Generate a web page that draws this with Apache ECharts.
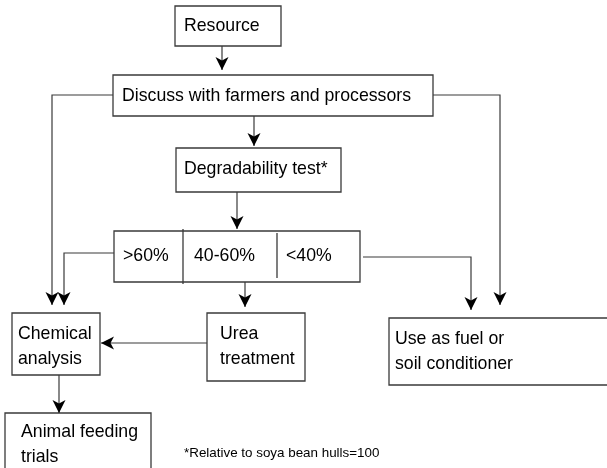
<!DOCTYPE html>
<html>
<head>
<meta charset="utf-8">
<script src="https://cdn.jsdelivr.net/npm/echarts@6/dist/echarts.min.js"></script>
<style>
  html, body { margin: 0; padding: 0; background: #fff; }
  #chart { width: 607px; height: 468px; }
</style>
</head>
<body>
<div id="chart"></div>
<script>
// flowchart texts
const nodeLabels = [
  "Resource",
  "Discuss with farmers and processors",
  "Degradability test*",
  "Chemical\nanalysis",
  "Urea\ntreatment",
  "Use as fuel or\nsoil conditioner",
  "Animal feeding\ntrials",
];
const splitLabels = [">60%", "40-60%", "<40%"];
const footnote = "*Relative to soya bean hulls=100";

// layout, in the picture's own units (x right, y down)
const nodeBoxes = [
  [175, 6, 281, 46],
  [113, 75, 433, 116],
  [176, 148, 341, 192],
  [12, 313, 100, 375],
  [207, 313, 305, 381],
  [389, 318, 620, 385],
  [5, 413, 151, 490],
];
const nodeTextPos = [
  [184, 26],
  [122, 96],
  [184, 169],
  [18, 347],
  [220, 347],
  [395, 352],
  [21, 445],
];
const splitBox = [114, 231, 360, 282];
const splitDividers = [
  [183, 229, 284],
  [277, 233, 278],
];
const splitTextX = [123, 194, 286];
const splitTextY = 256;
const footnotePos = [184, 453];

// connectors, all end with an arrow head
const connectors = [
  [[222, 46], [222, 70]],
  [[254, 116], [254, 146]],
  [[237, 192], [237, 229]],
  [[113, 95], [52, 95], [52, 305]],
  [[433, 95], [500, 95], [500, 305]],
  [[114, 253], [64, 253], [64, 305]],
  [[245, 282], [245, 307]],
  [[363, 257], [471, 257], [471, 310]],
  [[207, 343], [101, 343]],
  [[59, 375], [59, 413]],
];

const FONT = '"Liberation Sans", Arial, sans-serif';
const LINE = "#3a3a3a";

const chart = echarts.init(document.getElementById("chart"));

function rectShape(api, b) {
  const p0 = api.coord([b[0], b[1]]);
  const p1 = api.coord([b[2], b[3]]);
  return { x: p0[0], y: p0[1], width: p1[0] - p0[0], height: p1[1] - p0[1] };
}

function arrowHead(tip, from) {
  const dx = tip[0] - from[0];
  const dy = tip[1] - from[1];
  const len = Math.sqrt(dx * dx + dy * dy) || 1;
  const ux = dx / len, uy = dy / len;
  const nx = -uy, ny = ux;
  const L = 13, W = 6.5, notch = 9.5;
  return [
    [tip[0], tip[1]],
    [tip[0] - ux * L + nx * W, tip[1] - uy * L + ny * W],
    [tip[0] - ux * notch, tip[1] - uy * notch],
    [tip[0] - ux * L - nx * W, tip[1] - uy * L - ny * W],
  ];
}

chart.setOption({
  animation: false,
  backgroundColor: "#fff",
  grid: { left: 0, right: 0, top: 0, bottom: 0 },
  xAxis: { type: "value", min: 0, max: 607, show: false },
  yAxis: { type: "value", min: 0, max: 468, inverse: true, show: false },
  series: [
    {
      type: "custom",
      name: "boxes",
      clip: false,
      data: nodeBoxes.map((_, i) => [i]),
      renderItem: (params, api) => {
        const i = api.value(0);
        const tp = api.coord(nodeTextPos[i]);
        return {
          type: "group",
          children: [
            {
              type: "rect",
              shape: rectShape(api, nodeBoxes[i]),
              style: { fill: "#fff", stroke: LINE, lineWidth: 1.3 },
            },
            {
              type: "text",
              x: tp[0],
              y: tp[1],
              style: {
                text: nodeLabels[i],
                font: "17.7px " + FONT,
                fill: "#000",
                align: "left",
                verticalAlign: "middle",
                lineHeight: 25,
              },
            },
          ],
        };
      },
    },
    {
      type: "custom",
      name: "split",
      clip: false,
      data: [[0]],
      renderItem: (params, api) => {
        const children = [
          {
            type: "rect",
            shape: rectShape(api, splitBox),
            style: { fill: "#fff", stroke: LINE, lineWidth: 1.3 },
          },
        ];
        splitDividers.forEach((d) => {
          const a = api.coord([d[0], d[1]]);
          const b = api.coord([d[0], d[2]]);
          children.push({
            type: "line",
            shape: { x1: a[0], y1: a[1], x2: b[0], y2: b[1] },
            style: { stroke: LINE, lineWidth: 1.3 },
          });
        });
        splitLabels.forEach((t, k) => {
          const p = api.coord([splitTextX[k], splitTextY]);
          children.push({
            type: "text",
            x: p[0],
            y: p[1],
            style: {
              text: t,
              font: "17.7px " + FONT,
              fill: "#000",
              align: "left",
              verticalAlign: "middle",
            },
          });
        });
        return { type: "group", children };
      },
    },
    {
      type: "custom",
      name: "connectors",
      clip: false,
      data: connectors.map((_, i) => [i]),
      renderItem: (params, api) => {
        const pts = connectors[api.value(0)].map((p) => api.coord(p));
        const n = pts.length;
        return {
          type: "group",
          children: [
            {
              type: "polyline",
              shape: { points: pts },
              style: { stroke: LINE, lineWidth: 1.2, fill: null },
            },
            {
              type: "polygon",
              shape: { points: arrowHead(pts[n - 1], pts[n - 2]) },
              style: { fill: "#000" },
            },
          ],
        };
      },
    },
    {
      type: "custom",
      name: "footnote",
      clip: false,
      data: [[0]],
      renderItem: (params, api) => {
        const p = api.coord(footnotePos);
        return {
          type: "text",
          x: p[0],
          y: p[1],
          style: {
            text: footnote,
            font: "13.4px " + FONT,
            fill: "#000",
            align: "left",
            verticalAlign: "middle",
          },
        };
      },
    },
  ],
});

window.addEventListener("resize", () => chart.resize());
</script>
</body>
</html>
